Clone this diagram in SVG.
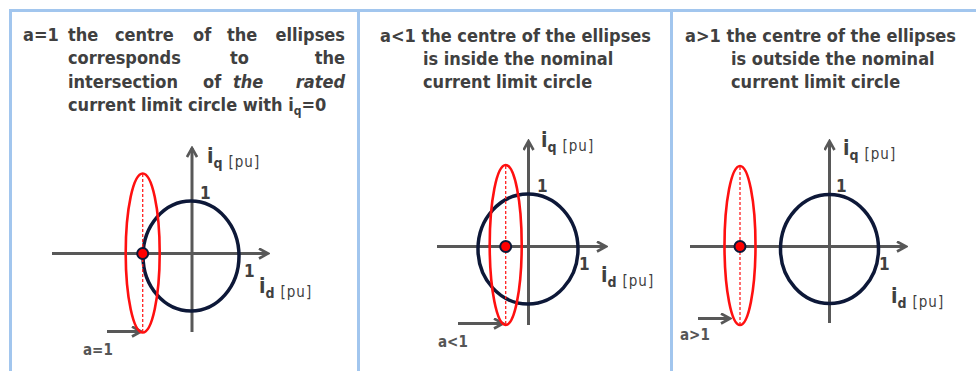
<svg xmlns="http://www.w3.org/2000/svg" width="976" height="371" viewBox="0 0 976 371">
<defs>
<style>
.frame{stroke:#a2c6ee;stroke-width:3;fill:none}
.hd{font-family:"DejaVu Sans Condensed","DejaVu Sans",sans-serif;font-stretch:condensed;font-weight:bold;font-size:18px;fill:#404040}
.it{font-style:italic}
.axis{stroke:#585858;stroke-width:3;fill:none}
.circ{stroke:#0d1838;stroke-width:3.5;fill:none}
.ell{stroke:#ff1010;stroke-width:2.6;fill:none}
.dash{stroke:#ff2020;stroke-width:1.3;stroke-dasharray:3 2;fill:none}
.dot{fill:#ff0000;stroke:#0d1838;stroke-width:2}
.lbl{font-family:"DejaVu Sans Condensed","DejaVu Sans",sans-serif;font-stretch:condensed;font-weight:bold;fill:#404040}
.one{font-size:17px}
.iv{font-size:21px}
.sub{font-size:14px}
.pu{font-size:15px;font-weight:normal;letter-spacing:1px}
.al{font-family:"DejaVu Sans Condensed","DejaVu Sans",sans-serif;font-stretch:condensed;font-weight:bold;font-size:15px;fill:#555}
</style>
<marker id="ah" viewBox="0 0 12 12" refX="10" refY="6" markerWidth="12" markerHeight="12" markerUnits="userSpaceOnUse" orient="auto">
<path d="M1,1 L10,6 L1,11" fill="none" stroke="#585858" stroke-width="2.6" stroke-linejoin="miter"/>
</marker>
</defs>
<rect width="976" height="371" fill="#ffffff"/>
<g id="frame">
<line class="frame" x1="9" y1="10.5" x2="976" y2="10.5"/>
<line class="frame" x1="10.5" y1="9" x2="10.5" y2="371"/>
<line class="frame" x1="358.5" y1="9" x2="358.5" y2="371"/>
<line class="frame" x1="671.5" y1="9" x2="671.5" y2="371"/>
</g>
<g id="header1" class="hd">
<text x="23" y="41">a=1</text>
<text x="68" y="41">the</text><text x="115" y="41">centre</text><text x="193" y="41">of</text><text x="227" y="41">the</text><text x="345" y="41" text-anchor="end">ellipses</text>
<text x="68" y="64">corresponds</text><text x="230" y="64">to</text><text x="345" y="64" text-anchor="end">the</text>
<text x="68" y="88">intersection</text><text x="203" y="88">of</text><text x="233" y="88" class="it">the</text><text x="345" y="88" text-anchor="end" class="it">rated</text>
<text x="68" y="111">current limit circle with i<tspan font-size="12" dy="4">q</tspan><tspan dy="-4">=0</tspan></text>
</g>
<g id="header2" class="hd">
<text x="380" y="42">a&lt;1 the centre of the ellipses</text>
<text x="423" y="65">is inside the nominal</text>
<text x="423" y="88">current limit circle</text>
</g>
<g id="header3" class="hd">
<text x="685" y="42">a&gt;1 the centre of the ellipses</text>
<text x="731" y="65">is outside the nominal</text>
<text x="731" y="88">current limit circle</text>
</g>
<g id="connectors">
<line class="axis" x1="192" y1="332" x2="192" y2="148" marker-end="url(#ah)"/>
<line class="axis" x1="52" y1="253.5" x2="268" y2="253.5" marker-end="url(#ah)"/>
<line class="axis" x1="107" y1="331.5" x2="141" y2="331.5" marker-end="url(#ah)"/>
<line class="axis" x1="528.5" y1="325" x2="528.5" y2="141" marker-end="url(#ah)"/>
<line class="axis" x1="437" y1="246.5" x2="606" y2="246.5" marker-end="url(#ah)"/>
<line class="axis" x1="458" y1="323.5" x2="503" y2="323.5" marker-end="url(#ah)"/>
<line class="axis" x1="829.5" y1="323" x2="829.5" y2="141" marker-end="url(#ah)"/>
<line class="axis" x1="690" y1="246.5" x2="906" y2="246.5" marker-end="url(#ah)"/>
<line class="axis" x1="698" y1="318.5" x2="730" y2="318.5" marker-end="url(#ah)"/>
</g>
<g id="plot1">
<ellipse class="circ" cx="191" cy="256" rx="48" ry="55"/>
<ellipse class="ell" cx="142.7" cy="253" rx="17" ry="79.5"/>
<line class="dash" x1="142.7" y1="174" x2="142.7" y2="332"/>
<circle class="dot" cx="142.7" cy="253.5" r="5.5"/>
<text class="lbl one" x="200" y="199">1</text>
<text class="lbl one" x="244" y="277">1</text>
<text class="lbl" x="207" y="163"><tspan class="iv">i</tspan><tspan class="sub" dy="5">q</tspan><tspan class="pu" dx="6" dy="-1">[pu]</tspan></text>
<text class="lbl" x="259" y="293"><tspan class="iv">i</tspan><tspan class="sub" dy="5">d</tspan><tspan class="pu" dx="6" dy="-1">[pu]</tspan></text>
<text class="al" x="83" y="355">a=1</text>
</g>
<g id="plot2">
<ellipse class="circ" cx="528" cy="249" rx="50" ry="55"/>
<ellipse class="ell" cx="505.7" cy="245" rx="16" ry="80"/>
<line class="dash" x1="505.7" y1="166" x2="505.7" y2="324"/>
<circle class="dot" cx="505.7" cy="246.5" r="5.5"/>
<text class="lbl one" x="537" y="192">1</text>
<text class="lbl one" x="579" y="270">1</text>
<text class="lbl" x="541" y="147"><tspan class="iv">i</tspan><tspan class="sub" dy="5">q</tspan><tspan class="pu" dx="6" dy="-1">[pu]</tspan></text>
<text class="lbl" x="601" y="282"><tspan class="iv">i</tspan><tspan class="sub" dy="5">d</tspan><tspan class="pu" dx="6" dy="-1">[pu]</tspan></text>
<text class="al" x="438" y="347">a&lt;1</text>
</g>
<g id="plot3">
<ellipse class="circ" cx="829.5" cy="249" rx="49" ry="54.5"/>
<ellipse class="ell" cx="740" cy="245.5" rx="15.5" ry="79.5"/>
<line class="dash" x1="740" y1="167" x2="740" y2="324"/>
<circle class="dot" cx="740" cy="246.5" r="5.5"/>
<text class="lbl one" x="836" y="192">1</text>
<text class="lbl one" x="879" y="270">1</text>
<text class="lbl" x="843" y="155"><tspan class="iv">i</tspan><tspan class="sub" dy="5">q</tspan><tspan class="pu" dx="6" dy="-1">[pu]</tspan></text>
<text class="lbl" x="891" y="303"><tspan class="iv">i</tspan><tspan class="sub" dy="5">d</tspan><tspan class="pu" dx="6" dy="-1">[pu]</tspan></text>
<text class="al" x="680" y="340">a&gt;1</text>
</g>
</svg>
